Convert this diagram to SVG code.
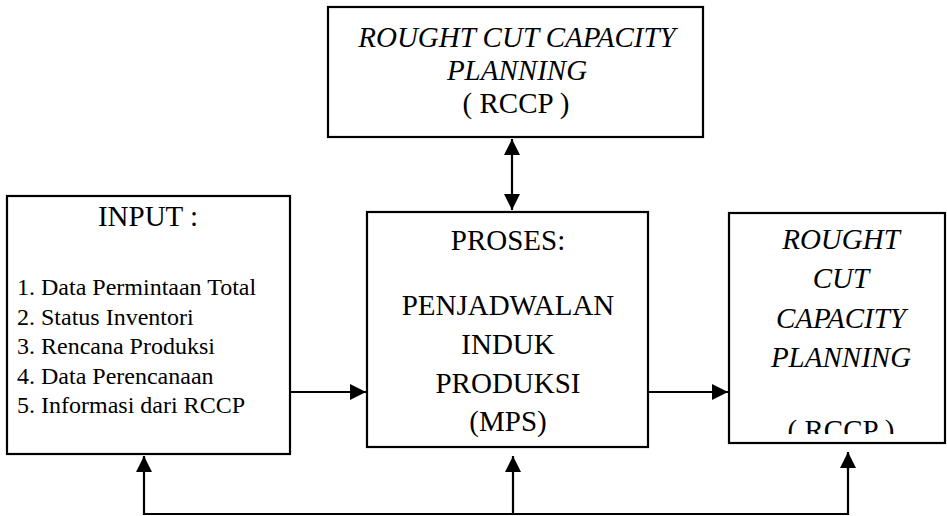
<svg xmlns="http://www.w3.org/2000/svg" width="947" height="516" viewBox="0 0 947 516">
<style>
  .box { fill: #fff; stroke: #000; stroke-width: 2.2; }
  .t { font-family: "Liberation Serif", "Times New Roman", serif; fill: #000; }
  .big { font-size: 29px; text-anchor: middle; }
  .it { font-style: italic; }
  .small { font-size: 24px; }
  .ln { fill: none; stroke: #000; stroke-width: 2.2; }
</style>
<defs>
  <marker id="ah" viewBox="0 0 10 10" refX="10" refY="5" markerWidth="16" markerHeight="16" markerUnits="userSpaceOnUse" orient="auto-start-reverse">
    <path d="M0,0 L10,5 L0,10 Z" fill="#000"/>
  </marker>
  <clipPath id="clipR"><rect x="729" y="213" width="216" height="221"/></clipPath>
</defs>
<rect width="947" height="516" fill="#fff"/>

<g id="connectors">
  <line class="ln" x1="512" y1="139" x2="512" y2="210" marker-start="url(#ah)" marker-end="url(#ah)"/>
  <line class="ln" x1="290" y1="392" x2="366" y2="392" marker-end="url(#ah)"/>
  <line class="ln" x1="648" y1="392" x2="728" y2="392" marker-end="url(#ah)"/>
  <polyline class="ln" points="144,457 144,514 848,514 848,453"/>
  <line class="ln" x1="144" y1="470" x2="144" y2="456" marker-end="url(#ah)"/>
  <line class="ln" x1="513" y1="514" x2="513" y2="456" marker-end="url(#ah)"/>
  <line class="ln" x1="848" y1="470" x2="848" y2="452" marker-end="url(#ah)"/>
</g>

<g id="rccp-top">
  <rect class="box" x="328" y="7" width="375" height="130"/>
  <text class="t big it" x="517" y="47">ROUGHT CUT CAPACITY</text>
  <text class="t big it" x="517" y="80">PLANNING</text>
  <text class="t big" x="516" y="113">( RCCP )</text>
</g>

<g id="input">
  <rect class="box" x="7" y="196" width="283" height="258"/>
  <text class="t big" x="148" y="226">INPUT :</text>
  <text class="t small" x="17" y="295">1. Data Permintaan Total</text>
  <text class="t small" x="17" y="324.5">2. Status Inventori</text>
  <text class="t small" x="17" y="354">3. Rencana Produksi</text>
  <text class="t small" x="17" y="383.5">4. Data Perencanaan</text>
  <text class="t small" x="17" y="413">5. Informasi dari RCCP</text>
</g>

<g id="mps">
  <rect class="box" x="367" y="212" width="281" height="235"/>
  <text class="t big" x="508" y="250">PROSES:</text>
  <text class="t big" x="508" y="315">PENJADWALAN</text>
  <text class="t big" x="508" y="354">INDUK</text>
  <text class="t big" x="508" y="393">PRODUKSI</text>
  <text class="t big" x="508" y="431">(MPS)</text>
</g>

<g id="rccp-right">
  <rect class="box" x="729" y="213" width="216" height="230"/>
  <g clip-path="url(#clipR)">
    <text class="t big it" x="841" y="249">ROUGHT</text>
    <text class="t big it" x="841" y="288">CUT</text>
    <text class="t big it" x="841" y="328">CAPACITY</text>
    <text class="t big it" x="841" y="367">PLANNING</text>
    <text class="t big" x="841" y="440">( RCCP )</text>
  </g>
</g>
</svg>
